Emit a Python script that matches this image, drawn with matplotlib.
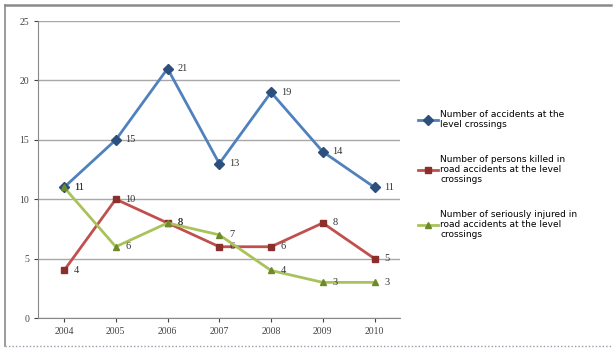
import matplotlib
matplotlib.use("Agg")
import matplotlib.pyplot as plt
from matplotlib.lines import Line2D

years = ["2004", "2005", "2006", "2007", "2008", "2009", "2010"]
accidents = [11, 15, 21, 13, 19, 14, 11]
killed = [4, 10, 8, 6, 6, 8, 5]
injured = [11, 6, 8, 7, 4, 3, 3]
labels = [
    "Number of accidents at the\nlevel crossings",
    "Number of persons killed in\nroad accidents at the level\ncrossings",
    "Number of seriously injured in\nroad accidents at the level\ncrossings",
]
yticks = [0, 5, 10, 15, 20, 25]

fig = plt.figure(figsize=(6.16, 3.51), dpi=100)
fig.patch.set_facecolor("white")
# frame around the chart
fig.add_artist(Line2D([0.008, 0.992], [0.985, 0.985], transform=fig.transFigure,
                      color="#8a8a8a", linewidth=1.8))
fig.add_artist(Line2D([0.008, 0.008], [0.015, 0.985], transform=fig.transFigure,
                      color="#8a8a8a", linewidth=1.2))
fig.add_artist(Line2D([0.008, 0.992], [0.015, 0.015], transform=fig.transFigure,
                      color="#9a9aaa", linewidth=1.0, linestyle=(0, (1, 1.5))))

ax = fig.add_axes([0.062, 0.094, 0.588, 0.846])

x = list(range(len(years)))
series = [
    (accidents, "#4F81BD", "D", "#2c4f7c"),
    (killed, "#C0504D", "s", "#8a2f2c"),
    (injured, "#A9C35A", "^", "#6f8a2c"),
]
lines = []
for (vals, col, mk, ec), lab in zip(series, labels):
    ln, = ax.plot(x, vals, color=col, linewidth=2.0, marker=mk, markersize=5,
                  markerfacecolor=ec, markeredgecolor=ec, label=lab, zorder=3)
    lines.append(ln)
    for xi, v in zip(x, vals):
        ax.annotate(str(v), (xi, v), xytext=(7, 0), textcoords="offset points",
                    ha="left", va="center", fontsize=7.5, color="#333333",
                    family="Liberation Serif")

ax.set_xlim(-0.5, 6.5)
ax.set_ylim(0, 25)
ax.set_yticks(yticks)
ax.set_xticks(x)
ax.set_xticklabels(years)
ax.tick_params(axis="both", labelsize=7, colors="#444444", length=3)
for lbl in ax.get_xticklabels() + ax.get_yticklabels():
    lbl.set_family("Liberation Serif")
ax.grid(axis="y", color="#a8a8a8", linewidth=1.0)
ax.set_axisbelow(True)
for s in ["top", "right"]:
    ax.spines[s].set_visible(False)
ax.spines["left"].set_color("#888888")
ax.spines["bottom"].set_color("#888888")

fig.legend(handles=lines, labels=labels, loc="upper left",
           bbox_to_anchor=(0.665, 0.71), frameon=False, fontsize=6.5,
           labelspacing=2.8, handlelength=2.2, handletextpad=0.3)

fig.savefig("out.png", dpi=100)
